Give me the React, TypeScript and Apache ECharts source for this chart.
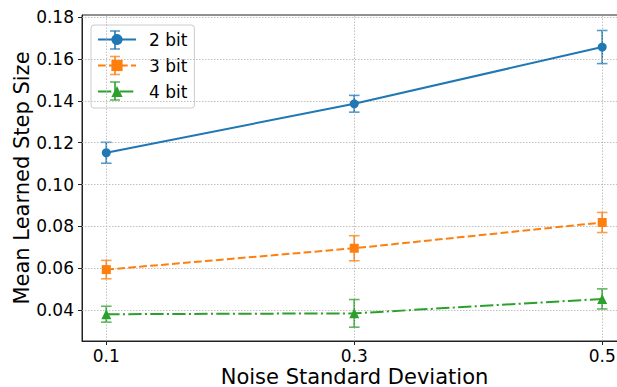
import React, { useEffect, useRef } from "react";
import * as echarts from "echarts";

const xTicks = [0.1, 0.3, 0.5];
const yTicks = [0.04, 0.06, 0.08, 0.1, 0.12, 0.14, 0.16, 0.18];
const seriesNames = ["2 bit", "3 bit", "4 bit"];
const noiseStd = [0.1, 0.3, 0.5];
const bit2Mean = [0.1152, 0.1386, 0.1657];
const bit2Err = [0.005, 0.004, 0.0079];
const bit3Mean = [0.0594, 0.0696, 0.0819];
const bit3Err = [0.0044, 0.006, 0.0048];
const bit4Mean = [0.0381, 0.0385, 0.0454];
const bit4Err = [0.0038, 0.0066, 0.0048];

const COLORS = ["#1f77b4", "#ff7f0e", "#2ca02c"];
const FONT = "DejaVu Sans";

export default function App() {
  const ref = useRef<HTMLDivElement>(null);
  useEffect(() => {
    if (!ref.current) return;
    const chart = echarts.init(ref.current, null, { renderer: "svg" });
    const means = [bit2Mean, bit3Mean, bit4Mean];
    const errs = [bit2Err, bit3Err, bit4Err];
    const symbols = ["circle", "rect", "triangle"];
    const symbolSizes = [9, 9, 10];
    const dashes: any[] = ["solid", [7.7, 3.3], [13.3, 3.3, 2.1, 3.3]];

    const gridLineStyle = { color: "#b0b0b0", width: 0.8, type: [1.5, 1.5] as any };

    const lineSeries = means.map((m, i) => ({
      name: seriesNames[i],
      type: "line",
      data: noiseStd.map((x, j) => [x, m[j]]),
      symbol: symbols[i],
      symbolSize: symbolSizes[i],
      showSymbol: true,
      lineStyle: { color: COLORS[i], width: 2, type: dashes[i] },
      itemStyle: { color: COLORS[i] },
      z: 5,
    }));

    const errSeries = means.map((m, i) => ({
      name: seriesNames[i] + " err",
      type: "custom",
      data: noiseStd.map((x, j) => [x, m[j] - errs[i][j], m[j] + errs[i][j]]),
      encode: { x: 0, y: [1, 2] },
      z: 4,
      renderItem: (params: any, api: any) => {
        const x = api.value(0);
        const lo = api.value(1);
        const hi = api.value(2);
        const p1 = api.coord([x, hi]);
        const p2 = api.coord([x, lo]);
        const w = 5.3;
        const st = { stroke: COLORS[i], lineWidth: 1.6 };
        return {
          type: "group",
          children: [
            { type: "line", shape: { x1: p1[0], y1: p1[1], x2: p2[0], y2: p2[1] }, style: st },
            { type: "line", shape: { x1: p1[0] - w, y1: p1[1], x2: p1[0] + w, y2: p1[1] }, style: { ...st, opacity: 0.75 } },
            { type: "line", shape: { x1: p2[0] - w, y1: p2[1], x2: p2[0] + w, y2: p2[1] }, style: { ...st, opacity: 0.75 } },
          ],
        };
      },
    }));

    const gridSeries = {
      name: "grid",
      type: "line",
      data: [],
      z: 1,
      silent: true,
      markLine: {
        silent: true,
        symbol: "none",
        label: { show: false },
        lineStyle: gridLineStyle,
        animation: false,
        data: [
          ...xTicks.map((v) => ({ xAxis: v })),
          ...yTicks.map((v) => ({ yAxis: v })),
        ],
      },
    };

    // legend error-bar decorations
    const legendRows = [40, 65.5, 91];
    const legendGraphics: any[] = [];
    legendRows.forEach((y, i) => {
      const st = { stroke: COLORS[i], lineWidth: 1.6 };
      legendGraphics.push(
        { type: "line", z: 100, shape: { x1: 115, y1: y - 9, x2: 115, y2: y + 9 }, style: st },
        { type: "line", z: 100, shape: { x1: 110, y1: y - 9, x2: 120, y2: y - 9 }, style: { ...st, opacity: 0.75 } },
        { type: "line", z: 100, shape: { x1: 110, y1: y + 9, x2: 120, y2: y + 9 }, style: { ...st, opacity: 0.75 } }
      );
    });

    chart.setOption({
      animation: false,
      textStyle: { fontFamily: FONT },
      grid: {
        left: 82,
        right: -10,
        top: 15,
        bottom: 46,
        outerBoundsMode: "none",
        containLabel: false,
        show: true,
        borderColor: "#222",
        borderWidth: 1,
        backgroundColor: "transparent",
      },
      xAxis: {
        type: "value",
        min: 0.0804,
        max: 0.52,
        name: "Noise Standard Deviation",
        nameLocation: "middle",
        nameGap: 25,
        nameMoveOverlap: false,
        nameTextStyle: { fontSize: 21, color: "#000", fontFamily: FONT },
        axisLine: { show: true, lineStyle: { color: "#222", width: 1 } },
        axisTick: { show: true, customValues: xTicks, length: 4, lineStyle: { color: "#222" } },
        axisLabel: {
          customValues: xTicks,
          formatter: (v: number) => v.toFixed(1),
          fontSize: 17,
          color: "#000",
          margin: 6,
          fontFamily: FONT,
        },
        splitLine: { show: false },
      },
      yAxis: {
        type: "value",
        min: 0.0253,
        max: 0.181,
        name: "Mean Learned Step Size",
        nameLocation: "middle",
        nameGap: 50,
        nameMoveOverlap: false,
        nameTextStyle: { fontSize: 21, color: "#000", fontFamily: FONT },
        axisLine: { show: true, lineStyle: { color: "#222", width: 1 } },
        axisTick: { show: true, customValues: yTicks, length: 4, lineStyle: { color: "#222" } },
        axisLabel: {
          customValues: yTicks,
          formatter: (v: number) => v.toFixed(2),
          fontSize: 17,
          color: "#000",
          margin: 8,
          fontFamily: FONT,
        },
        splitLine: { show: false },
      },
      legend: {
        data: seriesNames,
        orient: "vertical",
        left: 91,
        top: 25,
        padding: [6, 7, 8, 6],
        itemWidth: 38,
        itemHeight: 14,
        itemGap: 9,
        borderColor: "#cccccc",
        borderWidth: 1,
        borderRadius: 3,
        backgroundColor: "rgba(255,255,255,0.8)",
        textStyle: {
          fontSize: 17,
          color: "#000",
          fontFamily: FONT,
          lineHeight: 17,
          padding: [0, 0, 0, 8],
        },
      },
      graphic: legendGraphics,
      series: [gridSeries, ...errSeries, ...lineSeries],
    });
    return () => chart.dispose();
  }, []);
  return (
    <div
      ref={ref}
      style={{ position: "fixed", left: 0, top: 0, width: 617, height: 387, background: "#fff" }}
    />
  );
}
